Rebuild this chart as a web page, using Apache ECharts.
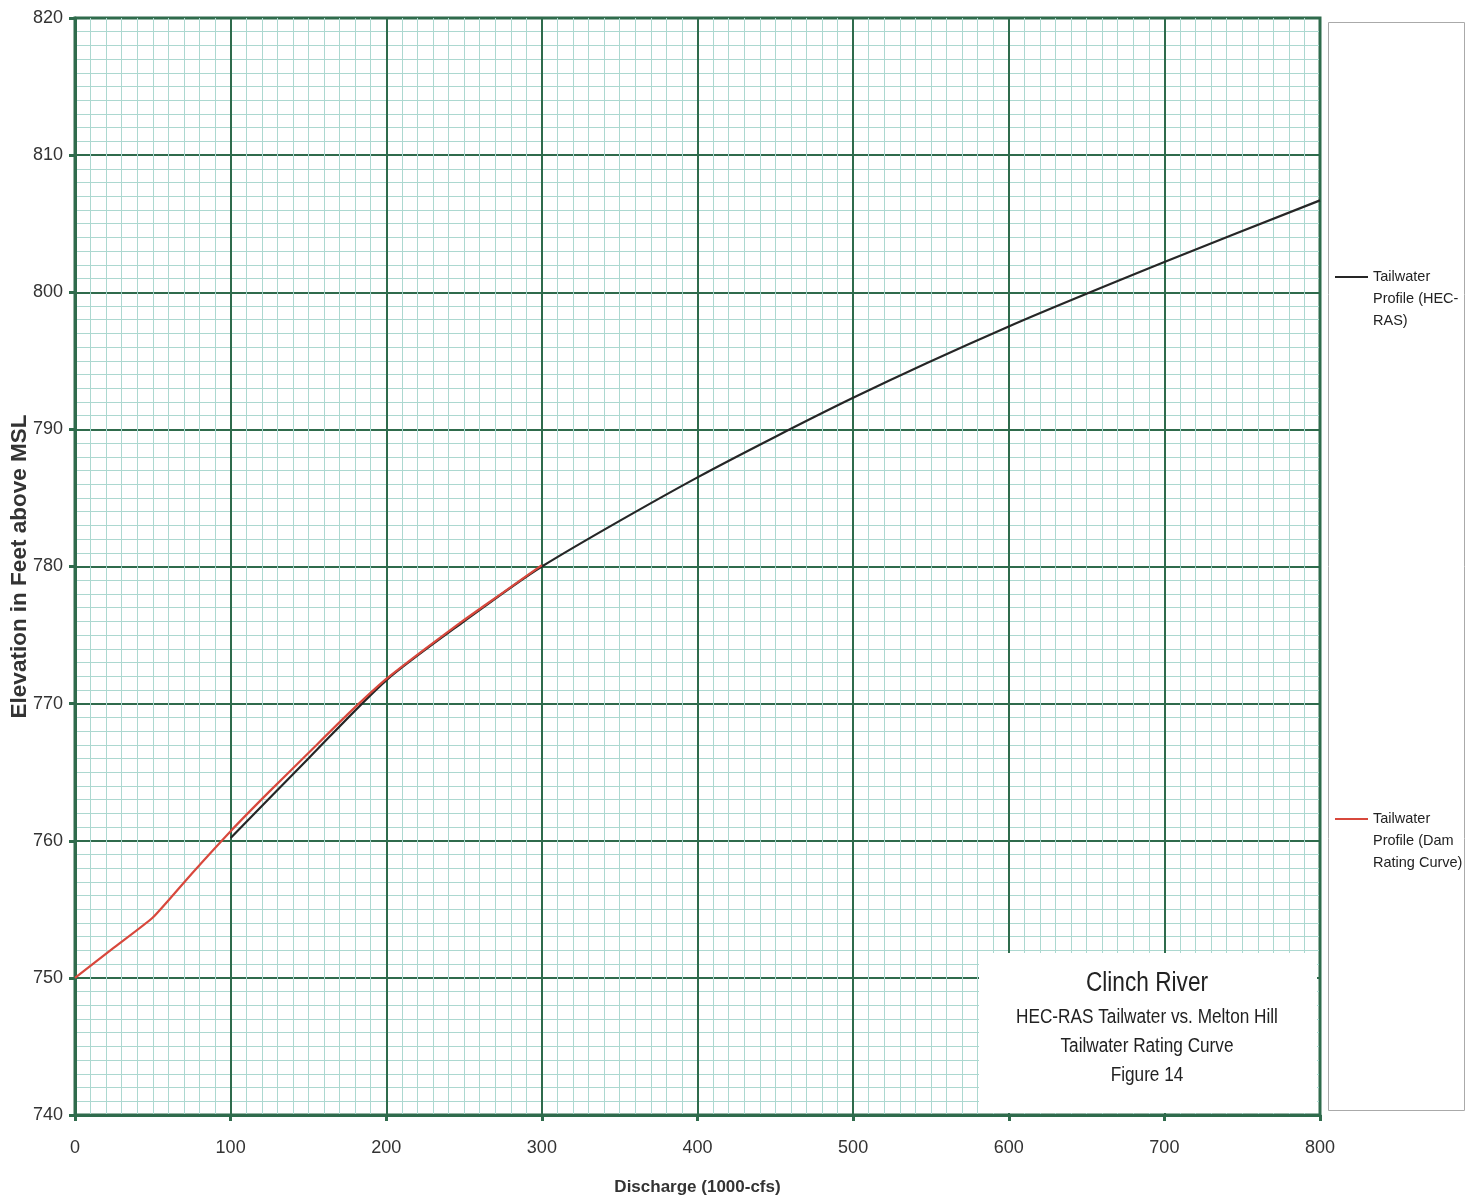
<!DOCTYPE html>
<html>
<head>
<meta charset="utf-8">
<script src="https://cdn.jsdelivr.net/npm/echarts@6/dist/echarts.min.js"></script>
<style>
html,body{margin:0;padding:0;background:#fff;}
#chart{width:1466px;height:1204px;}
</style>
</head>
<body>
<div id="chart"></div>
<script>
// ---- data ----
var hecRasX = [100, 150, 200, 250, 300, 400, 500, 600, 700, 800];
var hecRasY = [760.2, 766.0, 771.7, 776.0, 780.0, 786.5, 792.3, 797.5, 802.2, 806.7];
var damX = [0, 25, 50, 75, 100, 125, 150, 175, 200, 225, 250, 275, 300];
var damY = [750, 752.2, 754.4, 757.6, 760.7, 763.6, 766.4, 769.2, 771.8, 774.0, 776.1, 778.1, 780.1];
var seriesNames = ['Tailwater Profile (HEC-RAS)', 'Tailwater Profile (Dam Rating Curve)'];
var legendLabels = ['Tailwater\nProfile (HEC-\nRAS)', 'Tailwater\nProfile (Dam\nRating Curve)'];
var xTicks = [0, 100, 200, 300, 400, 500, 600, 700, 800];
var yTicks = [740, 750, 760, 770, 780, 790, 800, 810, 820];
var titleLines = ['Clinch River', 'HEC-RAS Tailwater vs. Melton Hill', 'Tailwater Rating Curve', 'Figure 14'];

function pairs(xs, ys){ return xs.map(function(x,i){ return [x, ys[i]]; }); }

var FONT = '"Liberation Sans", Arial, sans-serif';
var MAJOR = '#2f6b4c';
var MINOR = '#acd8d0';

var legendCommon = {
  orient: 'vertical', padding: 0,
  itemWidth: 33, itemHeight: 2,
  icon: 'rect',
  textStyle: {fontFamily: FONT, fontSize: 14.5, color: '#222', lineHeight: 22},
  z: 5
};

var chart = echarts.init(document.getElementById('chart'), null, {renderer:'canvas'});
chart.setOption({
  backgroundColor: '#fff',
  animation: false,
  grid: {left: 75, right: 146, top: 18, bottom: 89, containLabel: false, outerBoundsMode: 'none',
         show: true, borderColor: MAJOR, borderWidth: 3, backgroundColor: 'transparent'},
  graphic: [
    {type: 'rect', shape: {x: 979, y: 953, width: 338, height: 160}, style: {fill: '#fff'}, z: 10, silent: true},
    {type: 'text', x: 1147, y: 984, scaleX: 0.84, z: 11, silent: true,
     style: {text: titleLines[0], fontFamily: FONT, fontSize: 27, fill: '#222', align: 'center', verticalAlign: 'middle'}},
    {type: 'text', x: 1147, y: 1017, scaleX: 0.86, z: 11, silent: true,
     style: {text: titleLines[1], fontFamily: FONT, fontSize: 20, fill: '#222', align: 'center', verticalAlign: 'middle'}},
    {type: 'text', x: 1147, y: 1046, scaleX: 0.86, z: 11, silent: true,
     style: {text: titleLines[2], fontFamily: FONT, fontSize: 20, fill: '#222', align: 'center', verticalAlign: 'middle'}},
    {type: 'text', x: 1147, y: 1075, scaleX: 0.86, z: 11, silent: true,
     style: {text: titleLines[3], fontFamily: FONT, fontSize: 20, fill: '#222', align: 'center', verticalAlign: 'middle'}},
    {type: 'rect', shape: {x: 1328.5, y: 22.5, width: 136, height: 1088}, style: {fill: '#fff', stroke: '#aaa', lineWidth: 1}, z: 0, silent: true}
  ],
  legend: [
    Object.assign({}, legendCommon, {
      data: [seriesNames[0]], left: 1335, top: 222,
      formatter: function(){ return '\n\n' + legendLabels[0]; }
    }),
    Object.assign({}, legendCommon, {
      data: [seriesNames[1]], left: 1335, top: 764,
      formatter: function(){ return '\n\n' + legendLabels[1]; }
    })
  ],
  xAxis: {
    type: 'value', min: 0, max: 800, interval: 100,
    name: 'Discharge (1000-cfs)', nameLocation: 'middle', nameGap: 64, nameMoveOverlap: false,
    nameTextStyle: {fontFamily: FONT, fontSize: 17, fontWeight: 'bold', color: '#333'},
    axisLine: {show: true, lineStyle: {color: MAJOR, width: 3}},
    axisTick: {show: true, length: 6, lineStyle: {color: MAJOR, width: 3}},
    axisLabel: {fontFamily: FONT, fontSize: 18, color: '#333', margin: 24,
      formatter: function(v){ return xTicks.indexOf(v) >= 0 ? String(v) : ''; }},
    splitLine: {show: true, lineStyle: {color: MAJOR, width: 2}},
    minorTick: {show: false, splitNumber: 10},
    minorSplitLine: {show: true, lineStyle: {color: MINOR, width: 1}}
  },
  yAxis: {
    type: 'value', min: 740, max: 820, interval: 10,
    name: 'Elevation in Feet above MSL', nameLocation: 'middle', nameGap: 44, nameMoveOverlap: false,
    nameTextStyle: {fontFamily: FONT, fontSize: 22.5, fontWeight: 'bold', color: '#333'},
    axisLine: {show: true, lineStyle: {color: MAJOR, width: 3}},
    axisTick: {show: true, length: 6, lineStyle: {color: MAJOR, width: 3}},
    axisLabel: {fontFamily: FONT, fontSize: 18, color: '#333', margin: 12,
      formatter: function(v){ return yTicks.indexOf(v) >= 0 ? String(v) : ''; }},
    splitLine: {show: true, lineStyle: {color: MAJOR, width: 2}},
    minorTick: {show: false, splitNumber: 10},
    minorSplitLine: {show: true, lineStyle: {color: MINOR, width: 1}}
  },
  series: [
    {name: seriesNames[0], type: 'line', data: pairs(hecRasX, hecRasY), showSymbol: false, symbol: 'none',
     smooth: 0.25, lineStyle: {color: '#262626', width: 2.2}, itemStyle: {color: '#262626'}, z: 3},
    {name: seriesNames[1], type: 'line', data: pairs(damX, damY), showSymbol: false, symbol: 'none',
     smooth: 0.15, lineStyle: {color: '#d8483c', width: 2.2}, itemStyle: {color: '#d8483c'}, z: 4}
  ]
});
</script>
</body>
</html>
